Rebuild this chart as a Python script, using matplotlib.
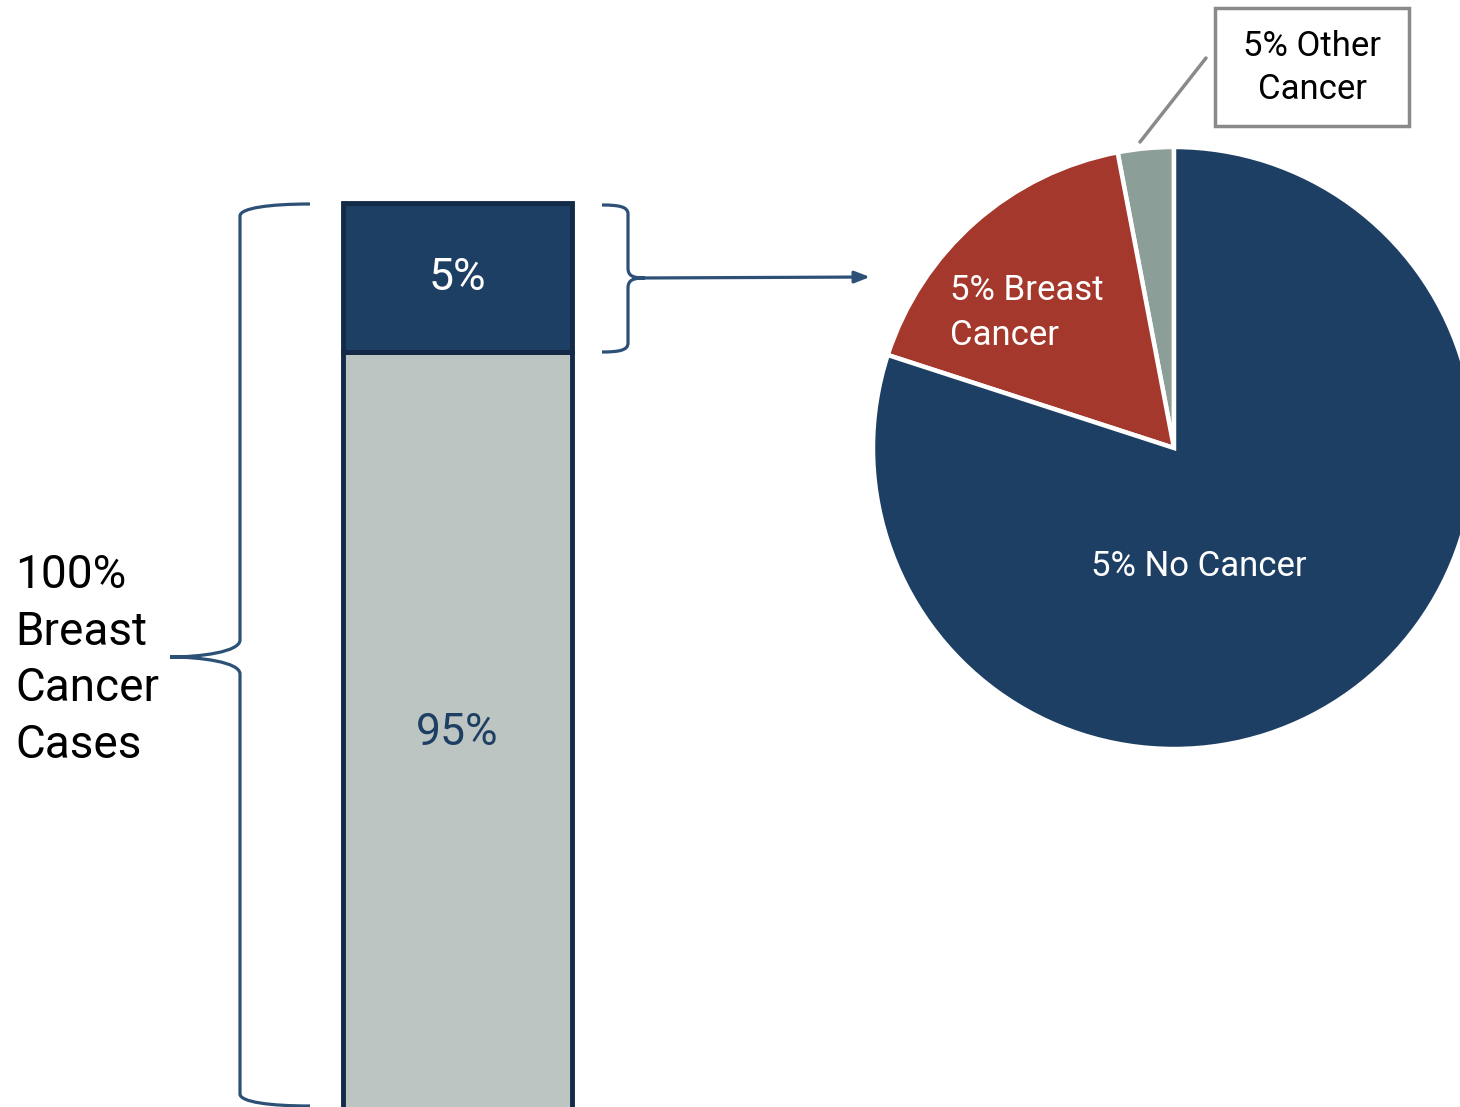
import matplotlib.pyplot as plt
from matplotlib.path import Path
from matplotlib.patches import PathPatch, Rectangle

plt.rcParams['font.family'] = ['Roboto', 'DejaVu Sans']

# bar data (percent of breast cancer cases)
bar_labels = ['95%', '5%']
bar_values = [95, 5]

# pie data, counter-clockwise from 12 o'clock
pie_labels = ['5% Other\nCancer', '5% Breast\nCancer', '5% No Cancer']
pie_values = [3, 17, 80]

NAVY = '#1E3F64'
DARK = '#132A48'
RED = '#A5382C'
GREY_PIE = '#8C9E98'
GREY_BAR = '#BCC5C1'
BRACE = '#2D5077'

W, H = 1460, 1107
fig = plt.figure(figsize=(W / 100, H / 100), dpi=100)


def fig_rect(x0, y0, x1, y1):
    # pixel box (top-left origin) -> figure fraction rect
    return [x0 / W, 1 - y1 / H, (x1 - x0) / W, (y1 - y0) / H]


# ---- stacked bar (clipped at the bottom of the figure)
ax_bar = fig.add_axes(fig_rect(300, 0, 615, H))
px_per_unit = 149 / bar_values[1]
top_val = sum(bar_values)
ax_bar.set_ylim(top_val - (H - 203) / px_per_unit, top_val + 203 / px_per_unit)
ax_bar.set_xlim(-0.5, 0.5)
bw = 229 / 315
ax_bar.bar(0, bar_values[0], width=bw, color=GREY_BAR, edgecolor=DARK, linewidth=3.5)
ax_bar.bar(0, bar_values[1], bottom=bar_values[0], width=bw, color=NAVY,
           edgecolor=DARK, linewidth=3.5)
ax_bar.text(0, bar_values[0] + bar_values[1] / 2, bar_labels[1], color='white',
            ha='center', va='center', fontsize=32)
ax_bar.text(0, top_val - (733 - 203) / px_per_unit, bar_labels[0], color=NAVY,
            ha='center', va='center', fontsize=32)
ax_bar.axis('off')

# ---- pie
cx, cy, r = 1174, 448, 301
ax_pie = fig.add_axes(fig_rect(cx - r, cy - r, cx + r, cy + r))
ax_pie.pie(pie_values, colors=[GREY_PIE, RED, NAVY], startangle=90, counterclock=True,
           wedgeprops=dict(edgecolor='white', linewidth=3.2), radius=1)
ax_pie.set_xlim(-1, 1)
ax_pie.set_ylim(-1, 1)
ax_pie.set_aspect('auto')
ax_pie.axis('off')

# ---- overlay in pixel coordinates for braces, arrow and labels
ov = fig.add_axes([0, 0, 1, 1])
ov.set_xlim(0, W)
ov.set_ylim(H, 0)
ov.axis('off')
ov.patch.set_alpha(0)

C3, L = Path.CURVE4, Path.LINETO
big = [(310, 204), (270, 204), (240, 208), (240, 216),
       (240, 640),
       (240, 652), (200, 657), (170, 657),
       (200, 657), (240, 662), (240, 674),
       (240, 1094),
       (240, 1102), (270, 1106), (310, 1106)]
codes = [Path.MOVETO, C3, C3, C3, L, C3, C3, C3, C3, C3, C3, L, C3, C3, C3]
ov.add_patch(PathPatch(Path(big, codes), fill=False, edgecolor=BRACE, lw=2.3))

small = [(602, 205), (620, 205), (628, 207), (628, 214),
         (628, 268),
         (628, 276), (633, 278), (645, 278),
         (633, 278), (628, 280), (628, 288),
         (628, 343),
         (628, 350), (620, 352), (602, 352)]
ov.add_patch(PathPatch(Path(small, codes), fill=False, edgecolor=BRACE, lw=2.3))
ov.annotate('', xy=(870, 277), xytext=(640, 278),
            arrowprops=dict(arrowstyle='-|>,head_length=0.9,head_width=0.35',
                            color=BRACE, lw=2.3, shrinkA=0, shrinkB=0))

ov.text(15, 660, '100%\nBreast\nCancer\nCases', ha='left', va='center',
        fontsize=33, linespacing=1.36, color='black')

ov.text(950, 313, pie_labels[1], ha='left', va='center', color='white',
        fontsize=25, linespacing=1.45)
ov.text(1199, 566, pie_labels[2], ha='center', va='center', color='white', fontsize=25)

ov.add_patch(Rectangle((1215, 8), 194, 118, fill=False, edgecolor='#8A8A8A', lw=2.5))
ov.text(1312, 68, pie_labels[0], ha='center', va='center', color='black',
        fontsize=25, linespacing=1.42)
ov.plot([1140, 1206], [142, 58], color='#8A8A8A', lw=2.5, solid_capstyle='round')

fig.savefig('out.png', dpi=100)
